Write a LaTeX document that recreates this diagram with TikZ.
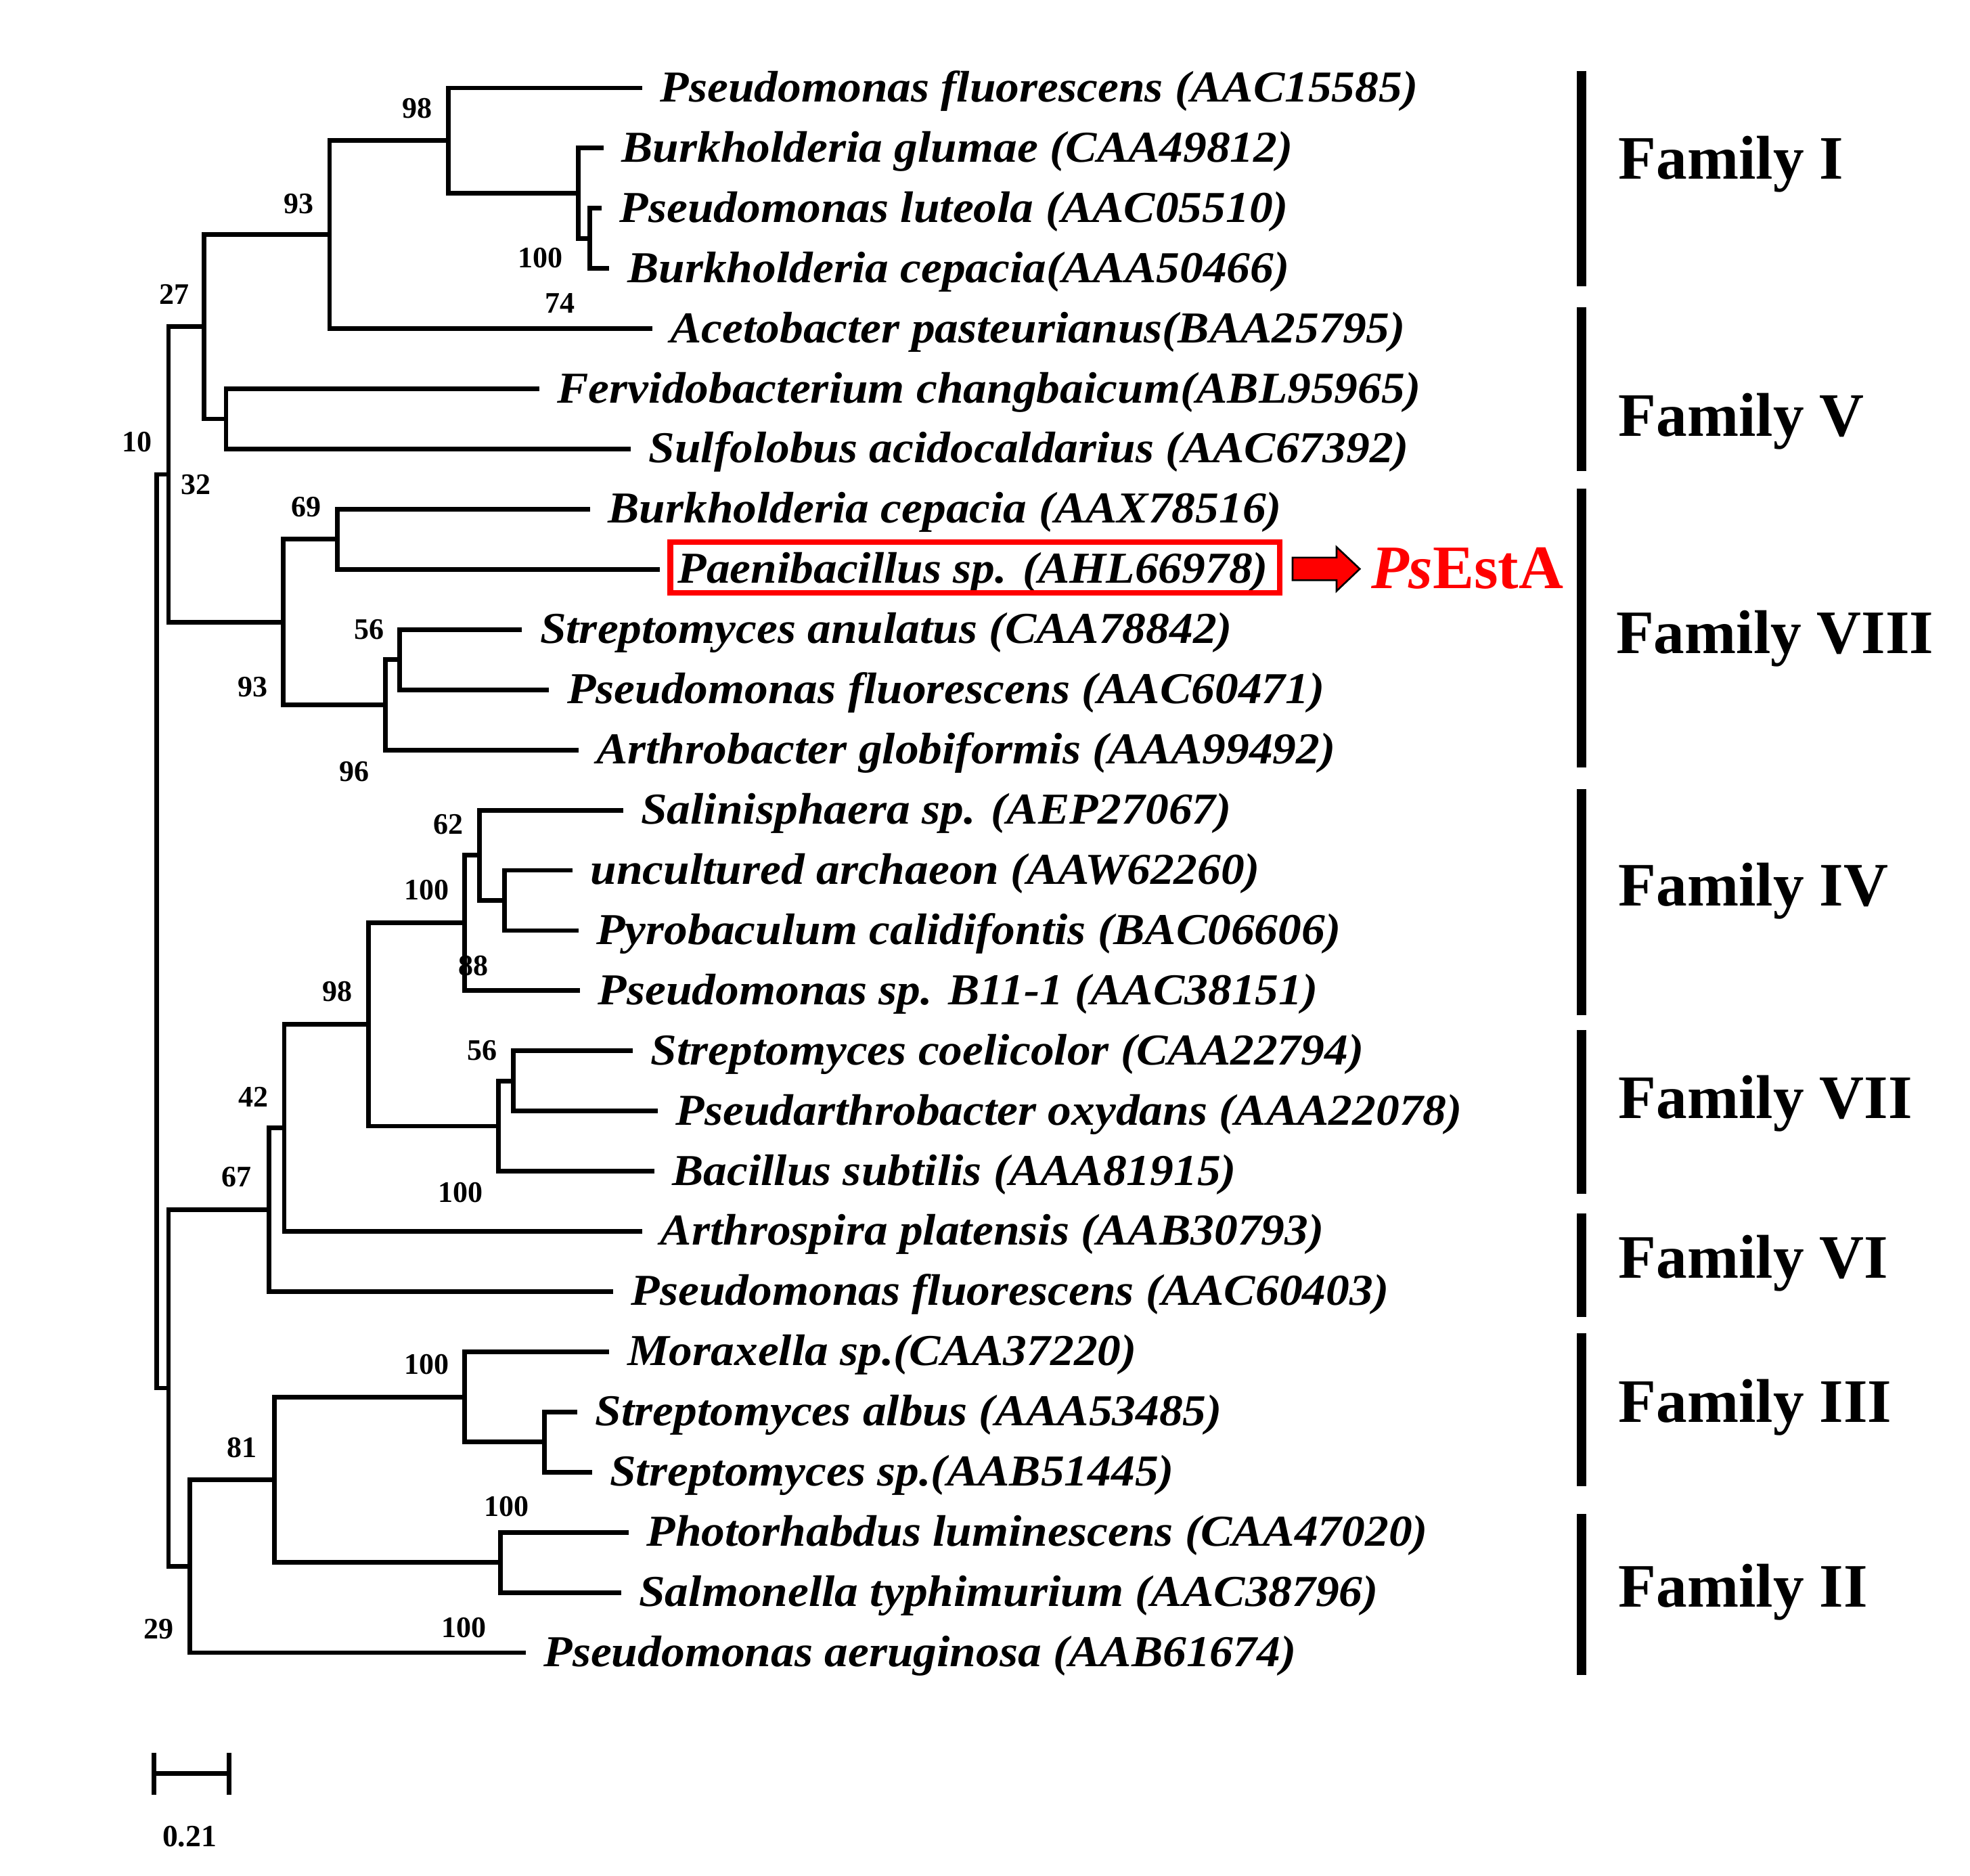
\documentclass[tikz,border=0pt]{standalone}
\usepackage{fontspec}
\setmainfont{Liberation Serif}
\newfontfamily\spf[FakeStretch=1.065]{Liberation Serif}
\newcommand{\ry}[1]{(70+47.9*(#1))}
\begin{document}
\begin{tikzpicture}[x=0.02cm,y=-0.02cm,
  br/.style={line width=2.1pt,line join=miter,line cap=butt},
  sp/.style={anchor=base west,inner sep=0pt,font=\spf\bfseries\itshape\fontsize{20}{24}\selectfont},
  bs/.style={inner sep=0pt,font=\bfseries\fontsize{13.5}{16}\selectfont},
  fam/.style={anchor=base west,inner sep=0pt,font=\bfseries\fontsize{28}{32}\selectfont},
  famline/.style={line width=4.1pt},
  redbox/.style={draw=red,line width=2.5pt}]
\useasboundingbox (0,0) rectangle (1568,1493);
\fill[white] (0,0) rectangle (1568,1493);
% leaf tips
\coordinate (t1) at (511.3,{\ry{0}});
\coordinate (t2) at (480.4,{\ry{1}});
\coordinate (t3) at (479,{\ry{2}});
\coordinate (t4) at (485,{\ry{3}});
\coordinate (t5) at (519,{\ry{4}});
\coordinate (t6) at (429.3,{\ry{5}});
\coordinate (t7) at (502,{\ry{6}});
\coordinate (t8) at (469.5,{\ry{7}});
\coordinate (t9) at (525.2,{\ry{8}});
\coordinate (t10) at (415.5,{\ry{9}});
\coordinate (t11) at (437.1,{\ry{10}});
\coordinate (t12) at (460.3,{\ry{11}});
\coordinate (t13) at (495.9,{\ry{12}});
\coordinate (t14) at (455.6,{\ry{13}});
\coordinate (t15) at (460.3,{\ry{14}});
\coordinate (t16) at (461.8,{\ry{15}});
\coordinate (t17) at (503.6,{\ry{16}});
\coordinate (t18) at (523.7,{\ry{17}});
\coordinate (t19) at (520.6,{\ry{18}});
\coordinate (t20) at (511.3,{\ry{19}});
\coordinate (t21) at (488.1,{\ry{20}});
\coordinate (t22) at (485,{\ry{21}});
\coordinate (t23) at (459.4,{\ry{22}});
\coordinate (t24) at (471.1,{\ry{23}});
\coordinate (t25) at (500.5,{\ry{24}});
\coordinate (t26) at (494.3,{\ry{25}});
\coordinate (t27) at (418.5,{\ry{26}});
% internal nodes
\coordinate (nC) at (469.5,{\ry{2.5}});
\coordinate (nB) at (460.3,{\ry{1.75}});
\coordinate (nA) at (356.7,{\ry{0.875}});
\coordinate (nD) at (262.3,{\ry{2.4375}});
\coordinate (nF) at (179.9,{\ry{5.5}});
\coordinate (nE) at (162.5,{\ry{3.96875}});
\coordinate (nJ) at (268.6,{\ry{7.5}});
\coordinate (nL) at (318.1,{\ry{9.5}});
\coordinate (nK) at (306.6,{\ry{10.25}});
\coordinate (nI) at (225.3,{\ry{8.875}});
\coordinate (nG) at (134.1,{\ry{6.421875}});
\coordinate (nN) at (401.5,{\ry{13.5}});
\coordinate (nM) at (381.4,{\ry{12.75}});
\coordinate (nO) at (369.7,{\ry{13.875}});
\coordinate (nR) at (408.7,{\ry{16.5}});
\coordinate (nQ) at (396.9,{\ry{17.25}});
\coordinate (nP) at (293.3,{\ry{15.5625}});
\coordinate (nS) at (226.2,{\ry{17.28125}});
\coordinate (nT) at (213.9,{\ry{18.640625}});
\coordinate (nY) at (433.4,{\ry{22.5}});
\coordinate (nX) at (370,{\ry{21.75}});
\coordinate (nZ) at (398.4,{\ry{24.5}});
\coordinate (nW) at (218.5,{\ry{23.125}});
\coordinate (nV) at (151.1,{\ry{24.5625}});
\coordinate (nU) at (134.1,{\ry{21.6015625}});
\coordinate (nH) at (124.8,{\ry{14.01171875}});
% branches
\foreach \p/\c in {nC/t3,nC/t4,nB/t2,nB/nC,nA/t1,nA/nB,nD/nA,nD/t5,nF/t6,nF/t7,nE/nD,nE/nF,
  nJ/t8,nJ/t9,nL/t10,nL/t11,nK/nL,nK/t12,nI/nJ,nI/nK,nG/nE,nG/nI,
  nN/t14,nN/t15,nM/t13,nM/nN,nO/nM,nO/t16,nR/t17,nR/t18,nQ/nR,nQ/t19,nP/nO,nP/nQ,
  nS/nP,nS/t20,nT/nS,nT/t21,nY/t23,nY/t24,nX/t22,nX/nY,nZ/t25,nZ/t26,nW/nX,nW/nZ,
  nV/nW,nV/t27,nU/nT,nU/nV,nH/nG,nH/nU}
  \draw[br] (\p) |- (\c);
% leaf labels
\node[sp] (l1) at ([shift={(14,11)}]t1) {Pseudomonas fluorescens (AAC15585)};
\node[sp] (l2) at ([shift={(14,11)}]t2) {Burkholderia glumae (CAA49812)};
\node[sp] (l3) at ([shift={(14,11)}]t3) {Pseudomonas luteola (AAC05510)};
\node[sp] (l4) at ([shift={(14,11)}]t4) {Burkholderia cepacia(AAA50466)};
\node[sp] (l5) at ([shift={(14,11)}]t5) {Acetobacter pasteurianus(BAA25795)};
\node[sp] (l6) at ([shift={(14,11)}]t6) {Fervidobacterium changbaicum(ABL95965)};
\node[sp] (l7) at ([shift={(14,11)}]t7) {Sulfolobus acidocaldarius (AAC67392)};
\node[sp] (l8) at ([shift={(14,11)}]t8) {Burkholderia cepacia (AAX78516)};
\node[sp] (l9) at ([shift={(14,11)}]t9) {Paenibacillus sp. (AHL66978)};
\node[sp] (l10) at ([shift={(14,11)}]t10) {Streptomyces anulatus (CAA78842)};
\node[sp] (l11) at ([shift={(14,11)}]t11) {Pseudomonas fluorescens (AAC60471)};
\node[sp] (l12) at ([shift={(14,11)}]t12) {Arthrobacter globiformis (AAA99492)};
\node[sp] (l13) at ([shift={(14,11)}]t13) {Salinisphaera sp. (AEP27067)};
\node[sp] (l14) at ([shift={(14,11)}]t14) {uncultured archaeon (AAW62260)};
\node[sp] (l15) at ([shift={(14,11)}]t15) {Pyrobaculum calidifontis (BAC06606)};
\node[sp] (l16) at ([shift={(14,11)}]t16) {Pseudomonas sp. B11-1 (AAC38151)};
\node[sp] (l17) at ([shift={(14,11)}]t17) {Streptomyces coelicolor (CAA22794)};
\node[sp] (l18) at ([shift={(14,11)}]t18) {Pseudarthrobacter oxydans (AAA22078)};
\node[sp] (l19) at ([shift={(14,11)}]t19) {Bacillus subtilis (AAA81915)};
\node[sp] (l20) at ([shift={(14,11)}]t20) {Arthrospira platensis (AAB30793)};
\node[sp] (l21) at ([shift={(14,11)}]t21) {Pseudomonas fluorescens (AAC60403)};
\node[sp] (l22) at ([shift={(14,11)}]t22) {Moraxella sp.(CAA37220)};
\node[sp] (l23) at ([shift={(14,11)}]t23) {Streptomyces albus (AAA53485)};
\node[sp] (l24) at ([shift={(14,11)}]t24) {Streptomyces sp.(AAB51445)};
\node[sp] (l25) at ([shift={(14,11)}]t25) {Photorhabdus luminescens (CAA47020)};
\node[sp] (l26) at ([shift={(14,11)}]t26) {Salmonella typhimurium (AAC38796)};
\node[sp] (l27) at ([shift={(14,11)}]t27) {Pseudomonas aeruginosa (AAB61674)};
% bootstrap values
\node[bs] (b1) at (332,86.4) {98};
\node[bs] (b2) at (237.7,162.2) {93};
\node[bs] (b3) at (430,205.4) {100};
\node[bs] (b4) at (445.5,241.5) {74};
\node[bs] (b5) at (138.7,234.3) {27};
\node[bs] (b6) at (109.3,352) {10};
\node[bs] (b7) at (155.7,385.8) {32};
\node[bs] (b8) at (243.8,403.5) {69};
\node[bs] (b9) at (294,500.9) {56};
\node[bs] (b10) at (201.2,546.6) {93};
\node[bs] (b11) at (281.9,613.9) {96};
\node[bs] (b12) at (356.7,656) {62};
\node[bs] (b13) at (339.7,708.4) {100};
\node[bs] (b14) at (376.8,768.5) {88};
\node[bs] (b15) at (268.6,789) {98};
\node[bs] (b16) at (383.9,835.9) {56};
\node[bs] (b17) at (201.5,873.2) {42};
\node[bs] (b18) at (366.6,948.9) {100};
\node[bs] (b19) at (188.2,936.9) {67};
\node[bs] (b20) at (339.7,1086.2) {100};
\node[bs] (b21) at (192.8,1152.3) {81};
\node[bs] (b22) at (403.1,1199.2) {100};
\node[bs] (b23) at (126.3,1296.6) {29};
\node[bs] (b24) at (369.1,1295.4) {100};
% highlighted entry
\draw[redbox] (533.5,431.5) rectangle (1018.5,472);
\draw[fill=red,draw=black,line width=0.8pt,line join=miter]
  (1028.8,443.8) -- (1063.8,443.8) -- (1063.8,435.4) -- (1082.3,452.8)
  -- (1063.8,470.4) -- (1063.8,461.8) -- (1028.8,461.8) -- cycle;
\node[fam,text=red] (ps) at (1091,468.6) {\textit{Ps}EstA};
% family bars
\draw[famline] (1258.8,56.3) -- (1258.8,228);
\draw[famline] (1258.8,244.6) -- (1258.8,375);
\draw[famline] (1258.8,389) -- (1258.8,611);
\draw[famline] (1258.8,628) -- (1258.8,808);
\draw[famline] (1258.8,820) -- (1258.8,950);
\draw[famline] (1258.8,966) -- (1258.8,1048);
\draw[famline] (1258.8,1061) -- (1258.8,1183);
\draw[famline] (1258.8,1205) -- (1258.8,1333);
\node[fam] (f1) at (1288,142.7) {Family I};
\node[fam] (f2) at (1288,347) {Family V};
\node[fam] (f3) at (1286,520) {Family VIII};
\node[fam] (f4) at (1288,721) {Family IV};
\node[fam] (f5) at (1288,890) {Family VII};
\node[fam] (f6) at (1288,1017) {Family VI};
\node[fam] (f7) at (1288,1132) {Family III};
\node[fam] (f8) at (1288,1279) {Family II};
% scale bar
\coordinate (s1) at (122.5,1411.6);
\coordinate (s2) at (182.3,1411.6);
\draw[br] (s1) -- (s2);
\draw[br] ([yshift=-9.5]s1) -- ([yshift=9.5]s1);
\draw[br] ([yshift=-9.5]s2) -- ([yshift=9.5]s2);
\node[inner sep=0pt,font=\bfseries\fontsize{14}{16}\selectfont] (sc) at (150.8,1461.5) {0.21};
\end{tikzpicture}
\end{document}
